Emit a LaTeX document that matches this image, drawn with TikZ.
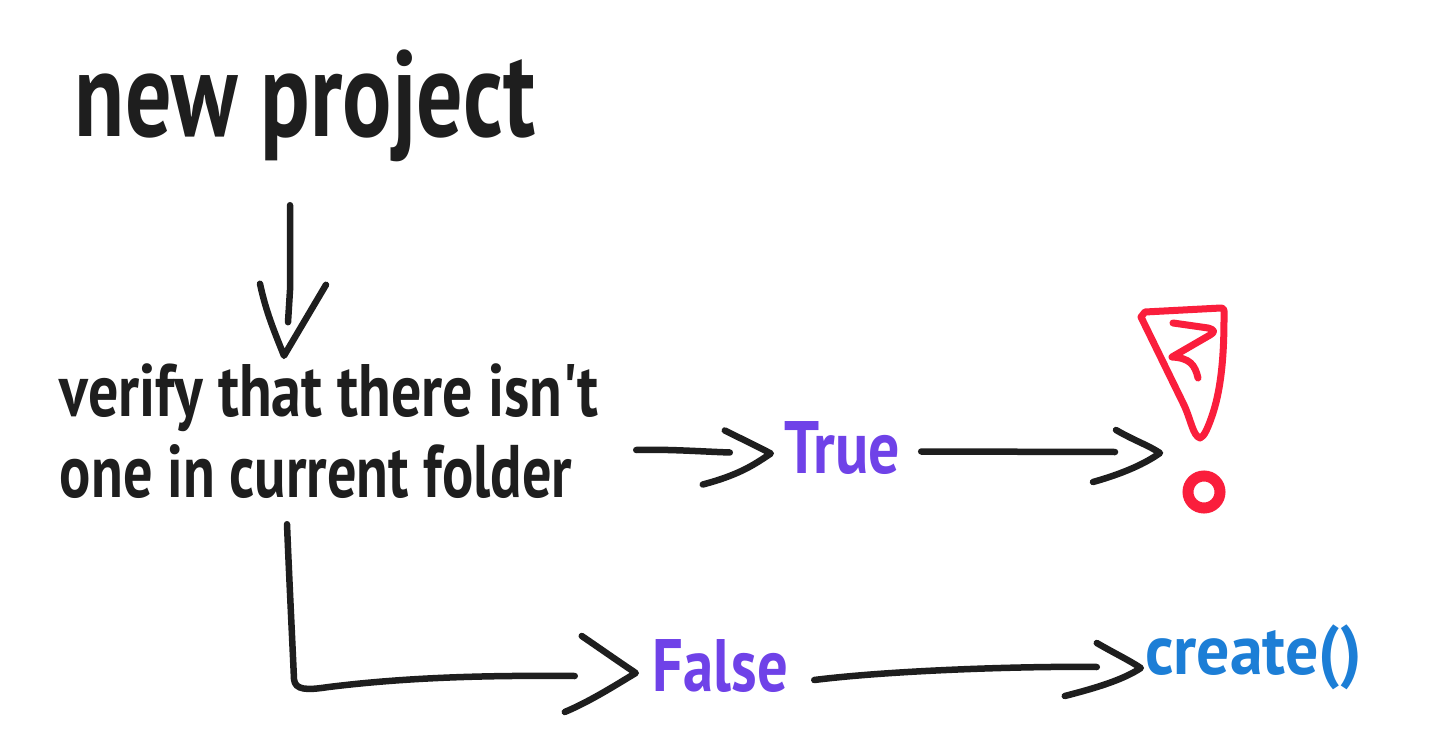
\documentclass[tikz,border=0pt]{standalone}
\usepackage{fontspec}
\newfontfamily\hand{PT Sans}
\usetikzlibrary{calc}
\definecolor{ink}{HTML}{1E1E1E}
\definecolor{violet1}{HTML}{6F42E8}
\definecolor{blue1}{HTML}{1C7ED6}
\definecolor{red1}{HTML}{FA1E3C}
\newcommand{\fitlab}[3]{\resizebox*{#1pt}{#2pt}{\hand\bfseries #3}}
\tikzset{
  lab/.style={inner sep=0pt,text=ink},
  stroke/.style={draw=ink,line width=6.5pt,line cap=round,line join=round},
  redstroke/.style={draw=red1,line width=7pt,line cap=round,line join=round}
}
\begin{document}
\begin{tikzpicture}[x=1pt,y=-1pt]
\useasboundingbox[fill=white] (0,0) rectangle (1438,754);
% labels
\node[lab] (np) at (305,106) {\fitlab{460}{112}{new project}};
\node[lab] (v1) at (329,398) {\fitlab{538}{68}{verify that there isn't}};
\node[lab] (v2) at (316,472) {\fitlab{512}{54}{one in current folder}};
\node[lab,text=violet1] (t) at (842.5,448.5) {\fitlab{115}{53}{True}};
\node[lab,text=violet1] (f) at (720.5,666.5) {\fitlab{135}{53}{False}};
\node[lab,text=blue1] (c) at (1253.5,657.5) {\fitlab{217}{65}{create()}};
\coordinate (warn) at (1182,450);
% connector ends
\coordinate (a1s) at ([shift={(-15,43)}]np.south);
\coordinate (a1t) at ([shift={(-45,-8)}]v1.north);
\coordinate (a2s) at ([shift={(64,-22)}]v2.east);
\coordinate (a2t) at ([shift={(-14,5)}]t.west);
\coordinate (a3s) at ([shift={(21,3)}]t.east);
\coordinate (a3t) at ([shift={(-22,3)}]warn);
\coordinate (a4s) at ([shift={(-29,25)}]v2.south);
\coordinate (a4t) at ([shift={(-17,6.5)}]f.west);
\coordinate (a5s) at ([shift={(26,13.5)}]f.east);
\coordinate (a5t) at ([shift={(-4,10.5)}]c.west);
% new project -> verify
\draw[stroke] (a1s) -- ($(a1s)+(0,85)$) -- ($(a1s)+(-2,117)$);
\draw[stroke,shift={(a1t)}] (-24,-72) .. controls (-18,-44) and (-10,-25) .. (0,0) -- (42,-71);
% verify -> True
\draw[stroke] (a2s) .. controls ($(a2s)+(30,-1)$) and ($(a2t)+(-70,-2)$) .. ($(a2t)+(-41,-1)$);
\draw[stroke,shift={(a2t)}] (-46,-23) .. controls (-30,-15) and (-15,-8) .. (0,0) .. controls (-15,10) and (-30,21) .. (-68,31);
% True -> warning
\draw[stroke] (a3s) -- ($(a3t)+(-45,-1)$);
\draw[stroke,shift={(a3t)}] (-44,-23) .. controls (-25,-12) and (-12,-8) .. (0,0) .. controls (-14,10) and (-35,20) .. (-67,29);
% verify -> False
\draw[stroke] (a4s) .. controls ($(a4s)+(2,50)$) and ($(a4s)+(5,110)$) .. ($(a4s)+(7,155)$) .. controls ($(a4s)+(8,166)$) and ($(a4s)+(20,166)$) .. ($(a4s)+(40,163)$) .. controls ($(a4s)+(120,153)$) and ($(a4s)+(200,151)$) .. ($(a4t)+(-61,3)$);
\draw[stroke,shift={(a4t)}] (-54,-37) .. controls (-35,-24) and (-15,-10) .. (0,0) .. controls (-20,12) and (-45,28) .. (-71,39);
% False -> create
\draw[stroke] (a5s) .. controls ($(a5s)+(80,-10)$) and ($(a5t)+(-110,-2)$) .. ($(a5t)+(-44,-1)$);
\draw[stroke,shift={(a5t)}] (-44,-25) .. controls (-25,-14) and (-12,-8) .. (0,0) .. controls (-18,12) and (-45,20) .. (-76,28);
% exclamation mark
\draw[redstroke] (1141,317) -- (1145,312) -- (1221,308) .. controls (1225,308) and (1224,312) .. (1224,318)
  .. controls (1224,350) and (1222,385) .. (1213,413) .. controls (1208,428) and (1204,437) .. (1200,438)
  .. controls (1193,436) and (1191,420) .. (1184,405) -- cycle;
\draw[redstroke] (1173,323) -- (1208,328) .. controls (1215,330) and (1215,332) .. (1210,335)
  -- (1172,357) .. controls (1190,358) and (1195,365) .. (1198,378);
\draw[draw=red1,line width=11pt] (1204,492) ellipse (16 and 16);
\end{tikzpicture}
\end{document}
